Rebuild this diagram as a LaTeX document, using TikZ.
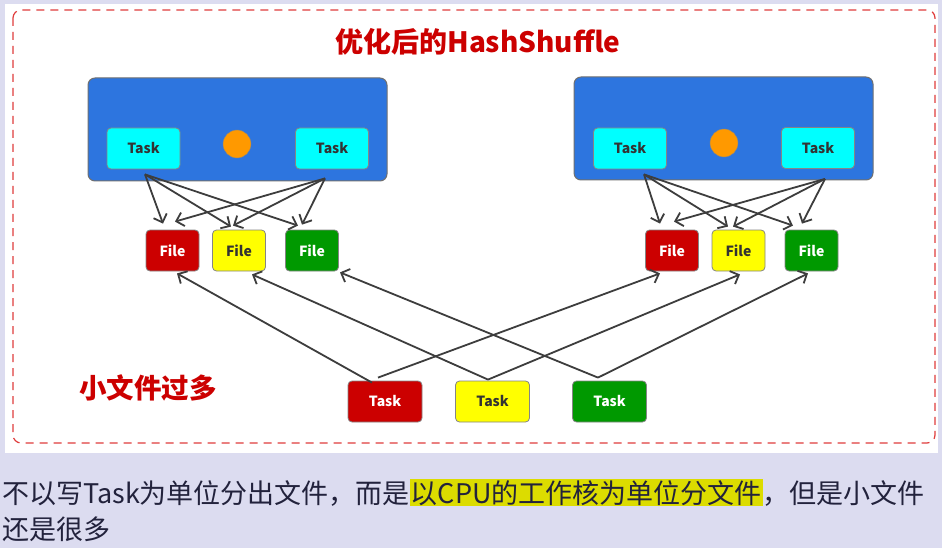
\documentclass[tikz,border=0pt]{standalone}
\usepackage{fontspec}
\setmainfont{Noto Sans CJK SC}
\usetikzlibrary{arrows.meta, positioning}
\definecolor{lavender}{HTML}{DCDCF0}
\definecolor{frame}{HTML}{E03C3C}
\definecolor{cpublue}{HTML}{2D75DF}
\definecolor{taskcyan}{HTML}{00FFFF}
\definecolor{slotorange}{HTML}{FF9900}
\definecolor{fred}{HTML}{CC0000}
\definecolor{fyellow}{HTML}{FFFF00}
\definecolor{fgreen}{HTML}{009900}
\definecolor{ink}{HTML}{333333}
\definecolor{note}{HTML}{22223C}
\definecolor{hilite}{HTML}{DCDC00}
\tikzset{
  cpubox/.style={draw=ink!70, fill=cpublue, rounded corners=7pt, line width=1pt,
                 minimum width=299pt, minimum height=103pt},
  taskbox/.style={draw=ink!60, rounded corners=4pt, line width=0.8pt, align=center,
                  font=\fontsize{14}{16}\selectfont\bfseries, text=ink,
                  minimum width=73pt, minimum height=41pt, inner sep=0pt},
  filebox/.style={taskbox, minimum width=53pt},
  flow/.style={-{Straight Barb[length=7pt,width=14pt]}, line width=1.8pt, color=ink!95},
  lbl/.style={font=\fontsize{27.5}{30}\selectfont\bfseries, text=fred, inner sep=0pt},
}
\begin{document}
\begin{tikzpicture}[x=1pt,y=-1pt]
\useasboundingbox (0,0) rectangle (942,548);
\fill[lavender] (0,0) rectangle (942,548);
\fill[white] (5,4) rectangle (938,453);
\draw[frame, dashed, line width=1.2pt, dash pattern=on 8pt off 6pt, rounded corners=8pt] (13,10) rectangle (935,443);
\node[lbl, font=\fontsize{28}{30}\selectfont\bfseries] (title) at (478,42) {优化后的HashShuffle};
\node[lbl] (many) at (148,388) {小文件过多};

% executors
\node[cpubox] (cpuA) at (237.5,129.5) {};
\node[cpubox] (cpuB) at (723.5,128.5) {};
\node[taskbox, fill=taskcyan] (a1) at (143.5,148.5) {Task};
\node[taskbox, fill=taskcyan] (a2) at (332,148.5) {Task};
\node[circle, draw=ink!60, fill=slotorange, minimum size=28pt, inner sep=0pt] (coreA) at (237,144) {};
\node[taskbox, fill=taskcyan] (b1) at (630,148.5) {Task};
\node[taskbox, fill=taskcyan] (b2) at (818,148) {Task};
\node[circle, draw=ink!60, fill=slotorange, minimum size=28pt, inner sep=0pt] (coreB) at (724,143) {};

% files
\node[filebox, fill=fred, text=white] (l1) at (172.5,250.5) {File};
\node[filebox, fill=fyellow] (l2) at (239,250.5) {File};
\node[filebox, fill=fgreen, text=white] (l3) at (312,250.5) {File};
\node[filebox, fill=fred, text=white] (r1) at (672,250.5) {File};
\node[filebox, fill=fyellow] (r2) at (738.5,250.5) {File};
\node[filebox, fill=fgreen, text=white] (r3) at (811.5,250.5) {File};

% map tasks
\node[taskbox, fill=fred, text=white, minimum width=74pt] (c1) at (385,401.5) {Task};
\node[taskbox, fill=fyellow, minimum width=74pt] (c2) at (492.5,401.5) {Task};
\node[taskbox, fill=fgreen, text=white, minimum width=74pt] (c3) at (609.5,401.5) {Task};

% task -> file
\foreach \t/\s/\f/\e in {a1/{1.5,5}/l1/{-9.5,-6}, a1/{1.5,5}/l2/{-8,-3}, a1/{1.5,5}/l3/{-14,-4},
                         a2/{-7,9}/l1/{2.5,-8}, a2/{-7,9}/l2/{-6,-4}, a2/{-7,9}/l3/{-10,-5},
                         b1/{14,5}/r1/{-12,-6}, b1/{14,5}/r2/{-10.5,-3}, b1/{14,5}/r3/{-18.5,-4},
                         b2/{7,10}/r1/{2,-8}, b2/{7,10}/r2/{-5.5,-3}, b2/{7,10}/r3/{-9.5,-6}}
  \draw[flow] ([shift={(\s)}]\t.south) -- ([shift={(\e)}]\f.north);
\foreach \t/\s/\f/\e in {c1/{-13,2}/l1/{4.5,2}, c1/{-7,-3}/r1/{-12,2},
                         c2/{-4.5,-1}/l2/{13,3}, c2/{-4.5,-1}/r2/{1.5,3},
                         c3/{-11.5,-3}/l3/{28,1}, c3/{-11.5,-3}/r3/{-3.5,2}}
  \draw[flow] ([shift={(\s)}]\t.north) -- ([shift={(\e)}]\f.south);

% caption
\node[anchor=north west, align=left, text=note, inner sep=0pt,
      font=\fontsize{27}{36}\selectfont] (caption) at (2,479)
  {不以写Task为单位分出文件，而是{\fboxsep=1pt\colorbox{hilite}{以CPU的工作核为单位分文件}}，但是小文件\\还是很多};
\end{tikzpicture}
\end{document}
